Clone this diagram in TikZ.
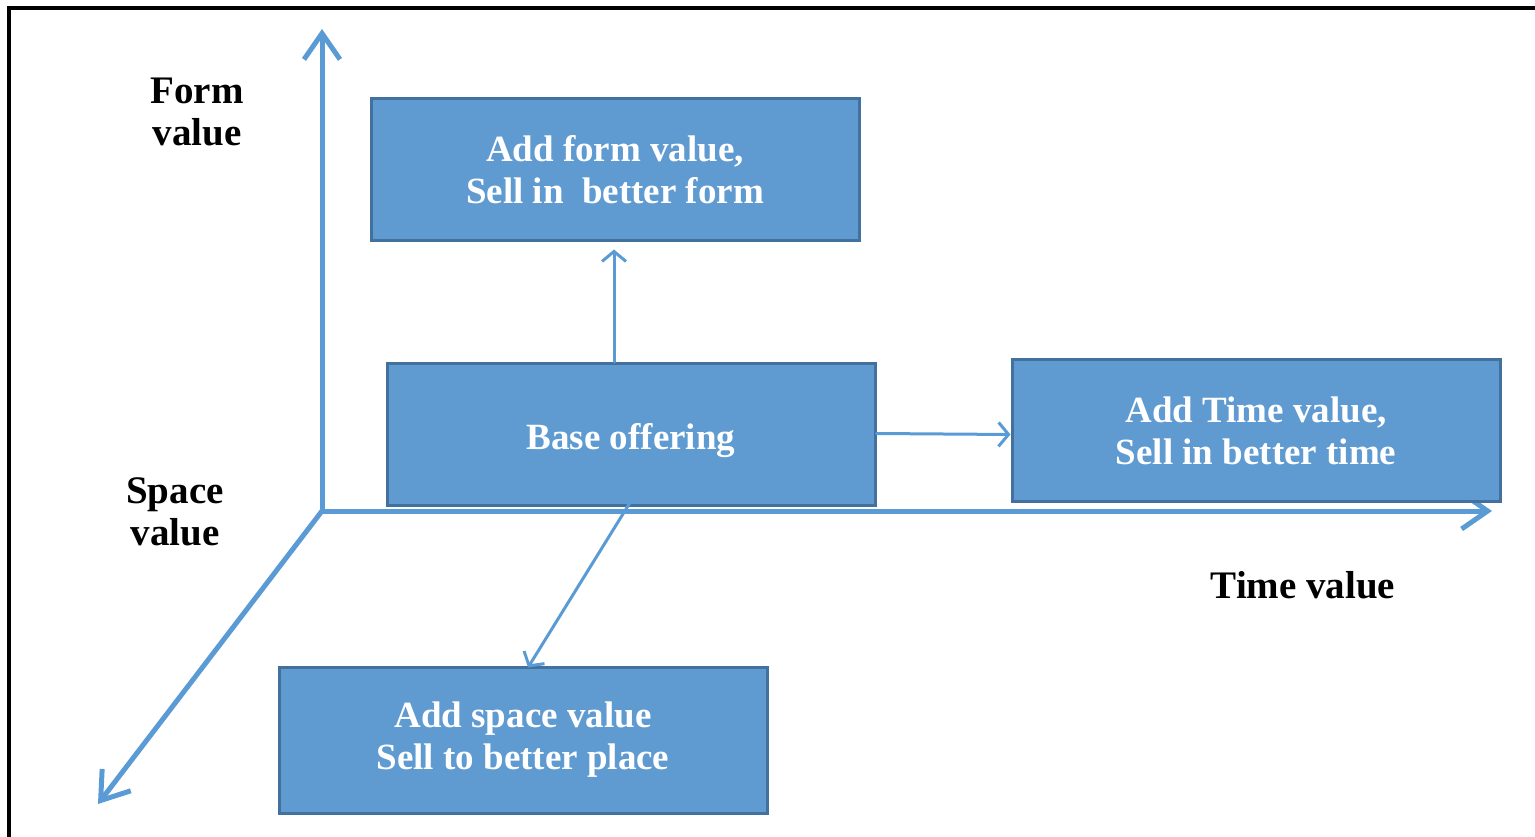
\documentclass[tikz,border=0pt]{standalone}
\usepackage{fontspec}
\setmainfont{Liberation Serif}
\usetikzlibrary{arrows.meta}
\definecolor{boxfill}{HTML}{5F9BD1}
\definecolor{boxline}{HTML}{41719C}
\definecolor{axis}{HTML}{5B9BD5}
\tikzset{
  valbox/.style={draw=boxline, line width=3pt, fill=boxfill, minimum width=488pt, minimum height=142pt,
    text=white, align=center, font=\bfseries\fontsize{37}{42}\selectfont, inner sep=0pt},
  axisline/.style={draw=axis, line width=5pt, line cap=round,
    -{Straight Barb[length=26pt,width=36pt,line width=5pt]}},
  link/.style={draw=axis, line width=3pt, line cap=round,
    -{Straight Barb[length=10pt,width=24pt,line width=3pt]}},
  axlabel/.style={align=center, font=\bfseries\fontsize{39}{42}\selectfont, inner sep=0pt}
}
\begin{document}
\begin{tikzpicture}[x=1pt,y=-1pt]
\useasboundingbox (0,0) rectangle (1535,837);
% outer frame
\draw[line width=4pt] (9,839) -- (9,8) -- (1537,8);
% axes
\coordinate (o) at (322,511);
\coordinate (ytip) at (322,29);
\coordinate (xtip) at (1492,511);
\coordinate (ztip) at (98,804);
\draw[axisline] (o) -- (ytip);
\draw[axisline] (o) -- (xtip);
\draw[axisline] (o) -- (ztip);
% boxes
\node[valbox] (form) at (615,170) {Add form value,\\Sell in\ \ better form};
\node[valbox] (base) at (631,434.5) {\raisebox{-6pt}[\height][\depth]{Base offering}};
\node[valbox] (time) at (1256,430.5) {Add Time value,\\Sell in better time};
\node[valbox, minimum height=146pt] (space) at (523,740) {Add space value\\Sell to better place};
% links
\draw[link, shorten >=7pt] (base.north -| form.south) ++(-1,0) coordinate (b1) -- (b1 |- form.south);
\draw[link] ([yshift=1pt]base.east) -- ([yshift=-4pt]time.west);
\draw[link] ([yshift=6pt]base.south) -- ([xshift=5pt,yshift=-2pt]space.north);
% labels
\node[axlabel] (flab) at (197,112) {Form\\value};
\node[axlabel] (slab) at (175,512) {Space\\value};
\node[axlabel] (tlab) at (1303,585) {Time value};
\end{tikzpicture}
\end{document}
